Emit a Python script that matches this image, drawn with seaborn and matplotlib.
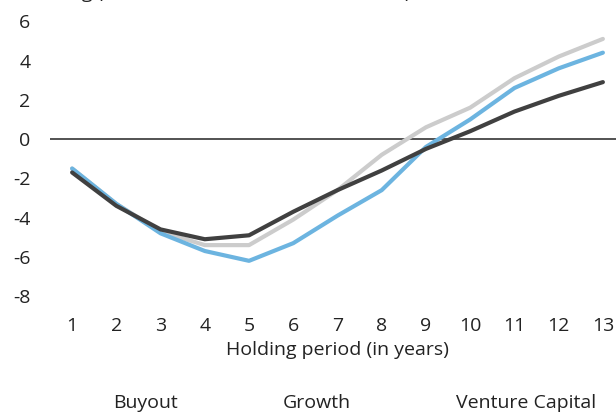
import matplotlib
matplotlib.use("Agg")
import matplotlib.pyplot as plt
import seaborn as sns
import pandas as pd

# Holding period in years
years = list(range(1, 14))

# Return gap by strategy (percentage points)
buyout = [-1.5, -3.3, -4.7, -5.4, -5.4, -4.1, -2.6, -0.8, 0.6, 1.6, 3.1, 4.2, 5.1]
growth = [-1.5, -3.3, -4.8, -5.7, -6.2, -5.3, -3.9, -2.6, -0.4, 1.0, 2.6, 3.6, 4.4]
venture = [-1.7, -3.4, -4.6, -5.1, -4.9, -3.7, -2.6, -1.6, -0.5, 0.4, 1.4, 2.2, 2.9]

series_names = ["Buyout", "Growth", "Venture Capital"]
series_colors = ["#cccccc", "#6cb4e0", "#404040"]

y_ticks = [-8, -6, -4, -2, 0, 2, 4, 6]

df = pd.concat(
    [
        pd.DataFrame({"year": years, "gap": vals, "strategy": name})
        for name, vals in zip(series_names, [buyout, growth, venture])
    ],
    ignore_index=True,
)

sns.set_theme(style="white")
plt.rcParams["font.family"] = ["Open Sans", "DejaVu Sans"]
plt.rcParams["font.size"] = 14
plt.rcParams["axes.unicode_minus"] = False
text_color = "#222222"

fig = plt.figure(figsize=(6.16, 4.15), dpi=100)
ax = fig.add_axes([50 / 616, 109 / 415, 575 / 616, 304.4 / 415])

ax.axhline(0, color="#444444", linewidth=1.3, zorder=1)

sns.lineplot(
    data=df, x="year", y="gap", hue="strategy",
    hue_order=series_names, palette=series_colors,
    linewidth=3, ax=ax, zorder=2, legend=True,
    solid_capstyle="round", solid_joinstyle="round",
)

ax.set_xlim(0.5, 13.5)
ax.set_ylim(-8.5, 7)
ax.set_xticks(years)
ax.set_yticks(y_ticks)
ax.tick_params(axis="both", length=0, labelsize=14, colors=text_color)
ax.tick_params(axis="y", pad=14)
ax.tick_params(axis="x", pad=8)
ax.set_ylabel("")
ax.set_xlabel("Holding period (in years)", fontsize=14, color=text_color, labelpad=4)
for s in ax.spines.values():
    s.set_visible(False)

handles, labels = ax.get_legend_handles_labels()
leg = ax.legend(
    handles, labels, ncol=3, frameon=False,
    loc="lower left", bbox_to_anchor=(110 / 616, 0.0), bbox_transform=fig.transFigure,
    handlelength=0, handletextpad=0, columnspacing=5.4, fontsize=14,
    borderaxespad=0, borderpad=0.15,
)
for h in leg.legend_handles:
    h.set_visible(False)
for t in leg.get_texts():
    t.set_color(text_color)

fig.text(20 / 616, 1.0 + 2 / 415, "Ranking (in % relative to MSCI World Index)",
         ha="left", va="baseline", fontsize=14, color=text_color)

fig.savefig("out.png", dpi=100)
